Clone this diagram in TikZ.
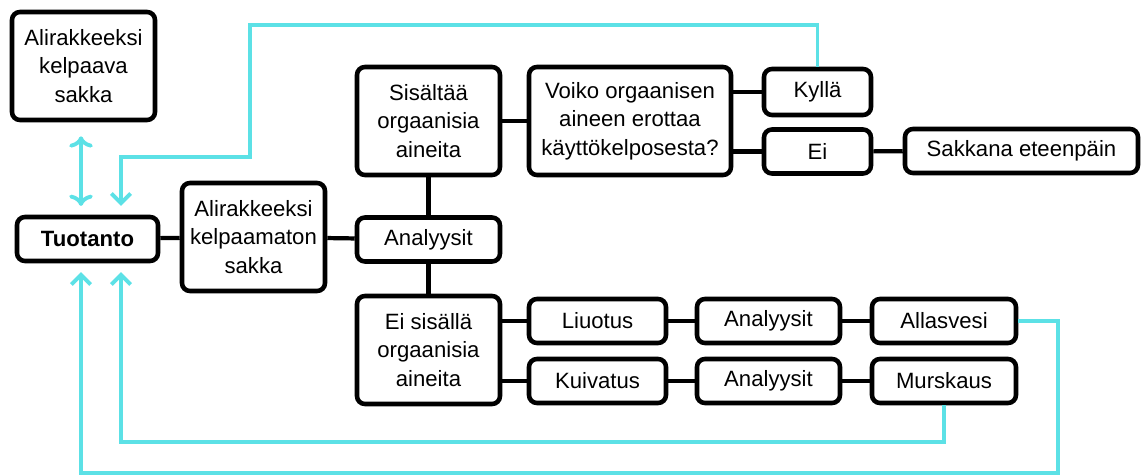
\documentclass[tikz,border=0pt]{standalone}
\usepackage{fontspec}
\setmainfont{Liberation Sans}
\usetikzlibrary{arrows.meta}
\definecolor{turkoosi}{HTML}{5CE1E6}
\begin{document}
\begin{tikzpicture}[x=0.02cm,y=-0.02cm,
	box/.style={draw,line width=2.6pt,rounded corners=4.5pt,align=center,inner sep=0pt,
		font=\fontsize{12.6}{16.2}\selectfont},
	tall/.style={box,minimum height=2.16cm},
	flat/.style={box,minimum height=0.88cm},
	link/.style={line width=2.4pt},
	feed/.style={line width=2.2pt,turkoosi,
		arrows={-Straight Barb[length=5.5pt,width=11pt]}}]
\useasboundingbox (0,0) rectangle (1143,476);
\node[tall,minimum width=2.86cm] (kelpaava) at (83.5,66) {Alirakkeeksi\\kelpaava\\sakka};
\node[flat,minimum width=2.82cm,font=\fontsize{12.6}{16.2}\selectfont\bfseries] (tuotanto) at (87.5,239) {Tuotanto};
\node[tall,minimum width=2.86cm] (kelpaamaton) at (253.5,237) {Alirakkeeksi\\kelpaamaton\\sakka};
\node[flat,minimum width=2.86cm] (analyysit) at (428.5,239.5) {Analyysit};
\node[tall,minimum width=2.86cm] (sisaltaa) at (428.5,121) {Sisältää\\orgaanisia\\aineita};
\node[tall,minimum width=2.86cm] (eisisalla) at (428.5,350) {Ei sisällä\\orgaanisia\\aineita};
\node[tall,minimum width=4.04cm] (voiko) at (630,121) {Voiko orgaanisen\\aineen erottaa\\käyttökelposesta?};
\node[flat,minimum width=2.14cm,minimum height=0.92cm] (kylla) at (817.5,92) {Kyllä};
\node[flat,minimum width=2.14cm] (ei) at (817.5,151.5) {Ei};
\node[flat,minimum width=4.66cm] (sakkana) at (1021.5,151) {Sakkana eteenpäin};
\node[flat,minimum width=2.74cm] (liuotus) at (597.5,321) {Liuotus};
\node[flat,minimum width=2.74cm] (kuivatus) at (597.5,381) {Kuivatus};
\node[flat,minimum width=2.86cm] (analyysit1) at (768.5,321) {Analyysit};
\node[flat,minimum width=2.86cm] (analyysit2) at (768.5,381) {Analyysit};
\node[flat,minimum width=2.88cm] (allasvesi) at (944,321) {Allasvesi};
\node[flat,minimum width=2.88cm] (murskaus) at (944,381) {Murskaus};
\draw[link] (tuotanto) -- (kelpaamaton);
\draw[link] (kelpaamaton) -- (analyysit);
\draw[link] (sisaltaa) -- (analyysit) -- (eisisalla);
\draw[link] (sisaltaa) -- (voiko);
\draw[link] (voiko.east |- kylla) -- (kylla);
\draw[link] (voiko.east |- ei) -- (ei);
\draw[link] (ei) -- (sakkana);
\draw[link] (eisisalla.east |- liuotus) -- (liuotus);
\draw[link] (eisisalla.east |- kuivatus) -- (kuivatus);
\draw[link] (liuotus) -- (analyysit1) -- (allasvesi);
\draw[link] (kuivatus) -- (analyysit2) -- (murskaus);
\coordinate (vasen) at (81,0);
\coordinate (oikea) at (121,0);
\coordinate (ylä) at (250,25);
\coordinate (mutka) at (121,157);
\coordinate (ala1) at (121,442);
\coordinate (ala2) at (1058,473);
\draw[feed,<->,shorten <=8pt,shorten >=5pt] (kelpaava.south -| vasen) -- (tuotanto.north -| vasen);
\draw[feed,shorten >=5pt] (kylla.north) |- (ylä) |- (mutka) -- (tuotanto.north -| oikea);
\draw[feed,shorten >=5pt] (murskaus.south) |- (ala1) -- (tuotanto.south -| oikea);
\draw[feed,shorten >=5pt] (allasvesi.east) -| (ala2) -| (tuotanto.south -| vasen);
\end{tikzpicture}
\end{document}
